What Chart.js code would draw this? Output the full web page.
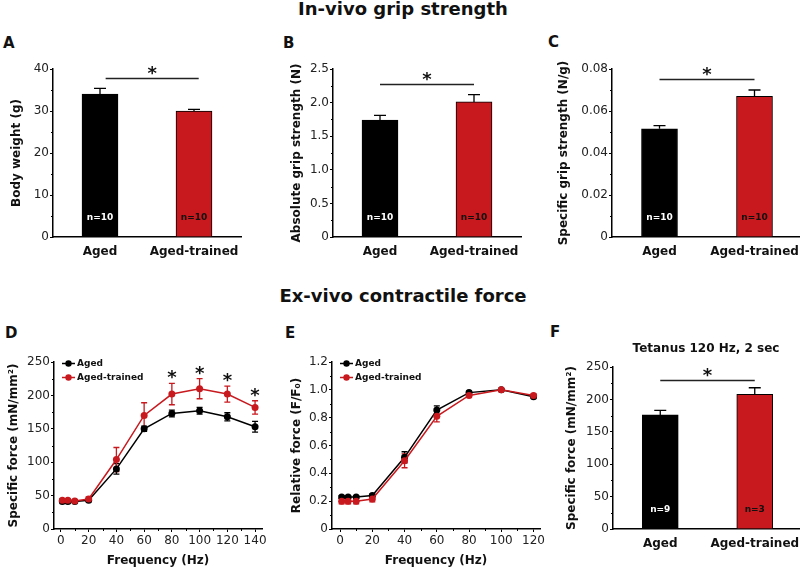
<!DOCTYPE html>
<html>
<head>
    <title>In-vivo grip strength / Ex-vivo contractile force</title>
    <script src="https://cdn.jsdelivr.net/npm/chart.js"></script>
    <style>
        body {
            margin: 0;
            background: #fff;
            font-family: "DejaVu Sans", Verdana, sans-serif;
            color: #111;
        }
        #page { position: relative; width: 800px; height: 569px; overflow: hidden; }
        .panel { position: absolute; }
        .panel canvas { display: block; }
        .title {
            position: absolute; left: 3px; width: 800px; text-align: center;
            font-weight: bold; font-size: 18px; line-height: 18px;
        }
        .letter { position: absolute; font-weight: bold; font-size: 15px; line-height: 15px; }
        .subtitle {
            position: absolute; width: 200px; text-align: center;
            font-weight: bold; font-size: 12px; line-height: 12px;
        }
    </style>
</head>
<body>
<div id="page">
    <div class="title" style="top:0px">In-vivo grip strength</div>
    <div class="title" style="top:287px">Ex-vivo contractile force</div>

    <div class="letter" style="left:3px;top:36px">A</div>
    <div class="letter" style="left:283px;top:36px">B</div>
    <div class="letter" style="left:548px;top:35px">C</div>
    <div class="letter" style="left:5px;top:326px">D</div>
    <div class="letter" style="left:285px;top:326px">E</div>
    <div class="letter" style="left:550px;top:325px">F</div>

    <div class="panel" style="left:0;top:55px"><canvas id="chartA" width="250" height="215"></canvas></div>
    <div class="panel" style="left:270px;top:55px"><canvas id="chartB" width="260" height="215"></canvas></div>
    <div class="panel" style="left:530px;top:55px"><canvas id="chartC" width="285" height="215"></canvas></div>
    <div class="panel" style="left:0;top:330px"><canvas id="chartD" width="270" height="239"></canvas></div>
    <div class="panel" style="left:270px;top:330px"><canvas id="chartE" width="280" height="239"></canvas></div>
    <div class="panel" style="left:530px;top:330px"><canvas id="chartF" width="285" height="239"></canvas></div>

    <div class="subtitle" style="left:606px;top:342px">Tetanus 120 Hz, 2 sec</div>
</div>

<script>
    // ---- data ----
    const groups = ['Aged', 'Aged-trained'];

    const bodyWeight = [34, 30];
    const bodyWeightErr = [1.4, 0.4];
    const absGrip = [1.74, 2.01];
    const absGripErr = [0.07, 0.11];
    const specGrip = [0.0515, 0.067];
    const specGripErr = [0.0015, 0.003];
    const nGrip = ['n=10', 'n=10'];

    const tetanus = [176, 208];
    const tetanusErr = [7, 10];
    const nTetanus = ['n=9', 'n=3'];

    const freqD = [1, 5, 10, 20, 40, 60, 80, 100, 120, 140];
    const forceAged = [41, 41, 41, 43, 90, 150, 173, 177, 168, 153];
    const forceAgedErr = [2, 2, 2, 2, 8, 4, 5, 5, 6, 8];
    const forceTrained = [43, 43, 42, 45, 104, 170, 202, 210, 202, 182];
    const forceTrainedErr = [2, 2, 2, 3, 18, 19, 16, 15, 12, 10];
    const sigFreqD = [80, 100, 120, 140];
    const xTicksD = [0, 20, 40, 60, 80, 100, 120, 140];

    const freqE = [1, 5, 10, 20, 40, 60, 80, 100, 120];
    const relAged = [0.23, 0.23, 0.23, 0.24, 0.515, 0.855, 0.98, 1.0, 0.95];
    const relAgedErr = [0.01, 0.01, 0.01, 0.01, 0.04, 0.03, 0.01, 0, 0.01];
    const relTrained = [0.2, 0.2, 0.2, 0.215, 0.49, 0.81, 0.96, 1.0, 0.96];
    const relTrainedErr = [0.02, 0.02, 0.02, 0.02, 0.05, 0.04, 0.01, 0, 0.01];
    const xTicksE = [0, 20, 40, 60, 80, 100, 120];

    // ---- styling ----
    const black = '#000000';
    const red = '#c8191e';
    const fontFamily = '"DejaVu Sans", Verdana, sans-serif';
    Chart.defaults.font.family = fontFamily;
    Chart.defaults.color = '#1a1a1a';

    // minor tick marks halfway between the major ones
    function drawMinorTicks(chart, id) {
        const s = chart.scales[id];
        const ctx = chart.ctx;
        const vals = s.ticks.map(t => t.value);
        ctx.save();
        ctx.strokeStyle = black;
        ctx.lineWidth = 1;
        ctx.beginPath();
        for (let i = 0; i < vals.length - 1; i++) {
            const p = Math.round(s.getPixelForValue((vals[i] + vals[i + 1]) / 2)) + 0.5;
            if (s.isHorizontal()) { ctx.moveTo(p, s.top); ctx.lineTo(p, s.top + 2); }
            else { ctx.moveTo(s.right - 2, p); ctx.lineTo(s.right, p); }
        }
        ctx.stroke();
        ctx.restore();
    }

    function drawErrors(chart, both, capW) {
        const ctx = chart.ctx;
        const ys = chart.scales.y;
        chart.data.datasets.forEach((ds, i) => {
            const meta = chart.getDatasetMeta(i);
            ctx.save();
            ctx.strokeStyle = both ? ds.borderColor : black;
            ctx.lineWidth = 1.3;
            meta.data.forEach((el, j) => {
                const d = ds.data[j];
                const v = typeof d === 'object' ? d.y : d;
                const e = ds.errors[j];
                if (!e) return;
                const top = ys.getPixelForValue(v + e);
                const bot = both ? ys.getPixelForValue(v - e) : el.y;
                ctx.beginPath();
                ctx.moveTo(el.x, top); ctx.lineTo(el.x, bot);
                ctx.moveTo(el.x - capW / 2, top); ctx.lineTo(el.x + capW / 2, top);
                if (both) { ctx.moveTo(el.x - capW / 2, bot); ctx.lineTo(el.x + capW / 2, bot); }
                ctx.stroke();
            });
            ctx.restore();
        });
    }

    function drawStar(ctx, x, y) {
        ctx.save();
        ctx.fillStyle = '#111';
        ctx.font = 'bold 18px ' + fontFamily;
        ctx.textAlign = 'center';
        ctx.textBaseline = 'alphabetic';
        ctx.fillText('*', x, y + 10);
        ctx.restore();
    }

    function drawSig(chart, sig) {
        const ctx = chart.ctx;
        const x0 = chart.scales.x.getPixelForValue(sig.x0);
        const x1 = chart.scales.x.getPixelForValue(sig.x1);
        const y = Math.round(chart.scales.y.getPixelForValue(sig.y)) + 0.5;
        ctx.save();
        ctx.strokeStyle = '#222';
        ctx.lineWidth = 1.3;
        ctx.beginPath();
        ctx.moveTo(x0, y); ctx.lineTo(x1, y);
        ctx.stroke();
        ctx.restore();
        drawStar(ctx, (x0 + x1) / 2, y - 9.5);
    }

    function drawN(chart, labels) {
        const ctx = chart.ctx;
        const meta = chart.getDatasetMeta(0);
        ctx.save();
        ctx.font = 'bold 9px ' + fontFamily;
        ctx.textAlign = 'center';
        ctx.textBaseline = 'middle';
        meta.data.forEach((el, j) => {
            ctx.fillStyle = j === 0 ? '#fff' : '#111';
            ctx.fillText(labels[j], el.x, chart.chartArea.bottom - 19);
        });
        ctx.restore();
    }

    function drawLegend(chart) {
        const ctx = chart.ctx;
        const x = chart.chartArea.left + 8;
        ctx.save();
        chart.data.datasets.forEach((ds, i) => {
            const y = chart.chartArea.top + 1.5 + i * 14;
            ctx.strokeStyle = ds.borderColor;
            ctx.fillStyle = ds.borderColor;
            ctx.lineWidth = 1.5;
            ctx.beginPath();
            ctx.moveTo(x, y); ctx.lineTo(x + 13, y);
            ctx.stroke();
            ctx.beginPath();
            ctx.arc(x + 6.5, y, 3.2, 0, Math.PI * 2);
            ctx.fill();
            ctx.fillStyle = '#111';
            ctx.font = 'bold 9px ' + fontFamily;
            ctx.textBaseline = 'middle';
            ctx.fillText(ds.label, x + 15, y + 0.5);
        });
        ctx.restore();
    }

    function extras(cfg) {
        return {
            id: 'extras',
            beforeDatasetsDraw(chart) {
                if (cfg.lineErrors) drawErrors(chart, true, 6);
            },
            afterDraw(chart) {
                drawMinorTicks(chart, 'y');
                if (cfg.lineErrors) drawMinorTicks(chart, 'x');
                else drawErrors(chart, false, 12);
                if (cfg.sig) drawSig(chart, cfg.sig);
                if (cfg.nLabels) drawN(chart, cfg.nLabels);
                if (cfg.stars) {
                    const ds = chart.data.datasets[1];
                    const ys = chart.scales.y;
                    cfg.stars.forEach(f => {
                        const j = ds.data.findIndex(p => p.x === f);
                        const top = ys.getPixelForValue(ds.data[j].y + ds.errors[j]);
                        drawStar(chart.ctx, chart.scales.x.getPixelForValue(f), top - 10);
                    });
                }
                if (cfg.lineErrors) drawLegend(chart);
            }
        };
    }

    function yScale(o) {
        return {
            min: 0, max: o.yMax,
            ticks: {
                stepSize: o.yStep, padding: 1, color: '#222',
                font: { size: 12 },
                callback: v => v === 0 ? '0' : v.toFixed(o.decimals)
            },
            grid: { drawOnChartArea: false, tickLength: 3, tickColor: black, color: black },
            border: { color: black, width: 1.5 },
            title: {
                display: true, text: o.yTitle, color: '#111',
                font: { size: 12, weight: 'bold' },
                padding: { top: o.titlePad, bottom: 0 }
            },
            afterFit: s => { s.width = o.yWidth; }
        };
    }

    function barChart(id, o) {
        return new Chart(document.getElementById(id), {
            type: 'bar',
            data: {
                labels: groups,
                datasets: [{
                    data: o.values,
                    errors: o.errors,
                    backgroundColor: [black, red],
                    borderColor: black,
                    borderWidth: 1,
                    barThickness: 36
                }]
            },
            options: {
                responsive: false,
                animation: false,
                events: [],
                layout: { padding: o.padding },
                plugins: { legend: { display: false }, tooltip: { enabled: false } },
                scales: {
                    x: {
                        grid: { display: false, drawTicks: false },
                        border: { color: black, width: 1.5 },
                        ticks: {
                            padding: 8, color: '#111', maxRotation: 0, minRotation: 0, autoSkip: false,
                            font: { size: 12, weight: 'bold' }
                        },
                        afterFit: s => { s.height = o.xHeight; }
                    },
                    y: yScale(o)
                }
            },
            plugins: [extras({ sig: o.sig, nLabels: o.nLabels })]
        });
    }

    function lineChart(id, o) {
        const series = (xs, ys) => xs.map((x, i) => ({ x: x, y: ys[i] }));
        const style = color => ({
            borderColor: color, backgroundColor: color,
            borderWidth: 1.5, pointRadius: 3.5, pointBorderWidth: 0, tension: 0
        });
        return new Chart(document.getElementById(id), {
            type: 'line',
            data: {
                datasets: [
                    Object.assign({ label: 'Aged', data: series(o.xs, o.aged), errors: o.agedErr, order: 1 }, style(black)),
                    Object.assign({ label: 'Aged-trained', data: series(o.xs, o.trained), errors: o.trainedErr, order: 0 }, style(red))
                ]
            },
            options: {
                responsive: false,
                animation: false,
                events: [],
                layout: { padding: o.padding },
                plugins: { legend: { display: false }, tooltip: { enabled: false } },
                scales: {
                    x: {
                        type: 'linear', min: o.xMin, max: o.xMax,
                        afterBuildTicks: s => { s.ticks = o.xTicks.map(v => ({ value: v })); },
                        grid: { drawOnChartArea: false, tickLength: 3, tickColor: black, color: black },
                        border: { color: black, width: 1.5 },
                        ticks: { padding: 2, color: '#222', maxRotation: 0, font: { size: 12 } },
                        title: {
                            display: true, text: 'Frequency (Hz)', color: '#111',
                            font: { size: 12, weight: 'bold' },
                            padding: { top: 0, bottom: 1 }
                        },
                        afterFit: s => { s.height = 40; }
                    },
                    y: yScale(o)
                }
            },
            plugins: [extras({ lineErrors: true, stars: o.stars })]
        });
    }

    barChart('chartA', {
        values: bodyWeight, errors: bodyWeightErr, nLabels: nGrip,
        yMax: 40, yStep: 10, decimals: 0, yTitle: 'Body weight (g)',
        titlePad: 9.5, yWidth: 53, xHeight: 33,
        padding: { top: 14, right: 9, left: 0, bottom: 0 },
        sig: { x0: 0.06, x1: 1.05, y: 37.9 }
    });

    barChart('chartB', {
        values: absGrip, errors: absGripErr, nLabels: nGrip,
        yMax: 2.5, yStep: 0.5, decimals: 1, yTitle: 'Absolute grip strength (N)',
        titlePad: 19.5, yWidth: 63, xHeight: 33,
        padding: { top: 14, right: 9, left: 0, bottom: 0 },
        sig: { x0: 0.0, x1: 1.0, y: 2.27 }
    });

    barChart('chartC', {
        values: specGrip, errors: specGripErr, nLabels: nGrip,
        yMax: 0.08, yStep: 0.02, decimals: 2, yTitle: 'Specific grip strength (N/g)',
        titlePad: 26.5, yWidth: 82, xHeight: 33,
        padding: { top: 14, right: 13, left: 0, bottom: 0 },
        sig: { x0: 0.0, x1: 1.0, y: 0.0752 }
    });

    lineChart('chartD', {
        xs: freqD, aged: forceAged, agedErr: forceAgedErr,
        trained: forceTrained, trainedErr: forceTrainedErr,
        xTicks: xTicksD, xMin: -5, xMax: 145, stars: sigFreqD,
        yMax: 250, yStep: 50, decimals: 0, yTitle: 'Specific force (mN/mm\u00b2)',
        titlePad: 6.8, yWidth: 54,
        padding: { top: 32, right: 8, left: 0, bottom: 0 }
    });

    lineChart('chartE', {
        xs: freqE, aged: relAged, agedErr: relAgedErr,
        trained: relTrained, trainedErr: relTrainedErr,
        xTicks: xTicksE, xMin: -5, xMax: 124,
        yMax: 1.2, yStep: 0.2, decimals: 1, yTitle: 'Relative force (F/F\u2080)',
        titlePad: 19.5, yWidth: 62,
        padding: { top: 32, right: 10, left: 0, bottom: 0 }
    });

    barChart('chartF', {
        values: tetanus, errors: tetanusErr, nLabels: nTetanus,
        yMax: 250, yStep: 50, decimals: 0, yTitle: 'Specific force (mN/mm\u00b2)',
        titlePad: 35, yWidth: 83, xHeight: 40,
        padding: { top: 37, right: 13, left: 0, bottom: 0 },
        sig: { x0: 0.0, x1: 1.0, y: 230.6 }
    });
</script>
</body>
</html>
